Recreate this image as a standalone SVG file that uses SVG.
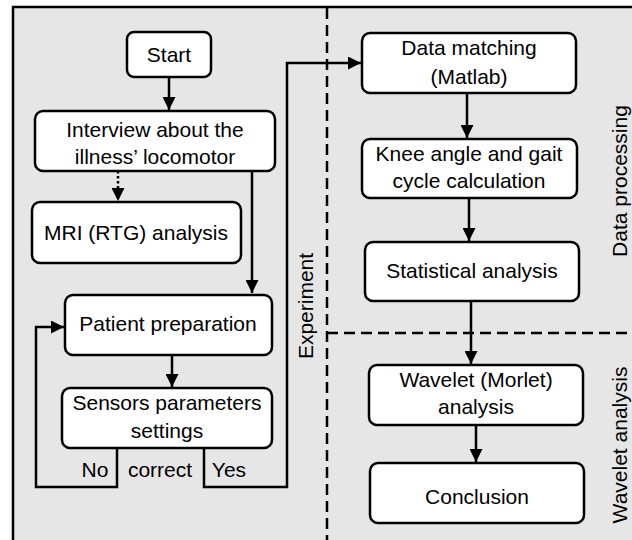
<svg xmlns="http://www.w3.org/2000/svg" width="632" height="540" viewBox="0 0 632 540">
<defs>
<style>
.bg{fill:#e6e6e6;stroke:#000;stroke-width:2.5}
.box{fill:#fff;stroke:#000;stroke-width:2.5}
.ln{fill:none;stroke:#000;stroke-width:2.5}
.dash{fill:none;stroke:#000;stroke-width:2.5;stroke-dasharray:11 6}
.dot{fill:none;stroke:#000;stroke-width:2.5;stroke-dasharray:2.5 2.5}
text{font-family:"Liberation Sans",Arial,sans-serif;font-size:21px;fill:#000;text-anchor:middle}
</style>
<marker id="ah" viewBox="0 0 13 13" refX="13" refY="6.5" markerWidth="13" markerHeight="13" markerUnits="userSpaceOnUse" orient="auto">
<path d="M0,0 L13,6.5 L0,13 Z" fill="#000"/>
</marker>
</defs>
<rect class="bg" x="13" y="7" width="640" height="560"/>
<g id="separators">
<line class="dash" x1="327" y1="8" x2="327" y2="540"/>
<line class="dash" x1="327" y1="333" x2="632" y2="333"/>
</g>
<g id="connectors">
<line class="ln" x1="169" y1="77" x2="169" y2="110" marker-end="url(#ah)"/>
<line class="dot" x1="118" y1="171" x2="118" y2="201" marker-end="url(#ah)"/>
<path class="ln" d="M252,171 V293" marker-end="url(#ah)"/>
<line class="ln" x1="172" y1="355" x2="172" y2="387" marker-end="url(#ah)"/>
<path class="ln" d="M117,448 V487 H36 V327 H64" marker-end="url(#ah)"/>
<path class="ln" d="M204,448 V487 H287 V63 H361" marker-end="url(#ah)"/>
<line class="ln" x1="467" y1="93" x2="467" y2="138" marker-end="url(#ah)"/>
<line class="ln" x1="469" y1="198" x2="469" y2="241" marker-end="url(#ah)"/>
<line class="ln" x1="471" y1="301" x2="471" y2="364" marker-end="url(#ah)"/>
<line class="ln" x1="476" y1="425" x2="476" y2="462" marker-end="url(#ah)"/>
</g>
<g id="start"><rect class="box" x="127" y="32" width="84" height="45" rx="7"/><text x="169" y="62">Start</text></g>
<g id="interview"><rect class="box" x="35" y="111" width="240" height="60" rx="8"/><text x="155" y="137">Interview about the</text><text x="155" y="164">illness’ locomotor</text></g>
<g id="mri"><rect class="box" x="32" y="202" width="209" height="61" rx="8"/><text x="136" y="240">MRI (RTG) analysis</text></g>
<g id="patient"><rect class="box" x="65" y="295" width="207" height="60" rx="8"/><text x="168" y="331">Patient preparation</text></g>
<g id="sensors"><rect class="box" x="62" y="388" width="210" height="60" rx="8"/><text x="167" y="410">Sensors parameters</text><text x="167" y="438">settings</text></g>
<g id="decision"><text x="95" y="477">No</text><text x="160" y="477">correct</text><text x="229" y="477">Yes</text></g>
<g id="data-matching"><rect class="box" x="362" y="33" width="214" height="60" rx="8"/><text x="469" y="55">Data matching</text><text x="469" y="84">(Matlab)</text></g>
<g id="knee"><rect class="box" x="362" y="139" width="215" height="59" rx="8"/><text x="469" y="161">Knee angle and gait</text><text x="469" y="188">cycle calculation</text></g>
<g id="statistical"><rect class="box" x="365" y="242" width="214" height="59" rx="8"/><text x="472" y="278">Statistical analysis</text></g>
<g id="wavelet"><rect class="box" x="369" y="365" width="214" height="60" rx="8"/><text x="476" y="387">Wavelet (Morlet)</text><text x="476" y="414">analysis</text></g>
<g id="conclusion"><rect class="box" x="370" y="463" width="214" height="60" rx="8"/><text x="477" y="504">Conclusion</text></g>
<g id="labels">
<text transform="translate(313,306) rotate(-90)">Experiment</text>
<text transform="translate(627,181) rotate(-90)">Data processing</text>
<text transform="translate(627,445) rotate(-90)">Wavelet analysis</text>
</g>
</svg>
